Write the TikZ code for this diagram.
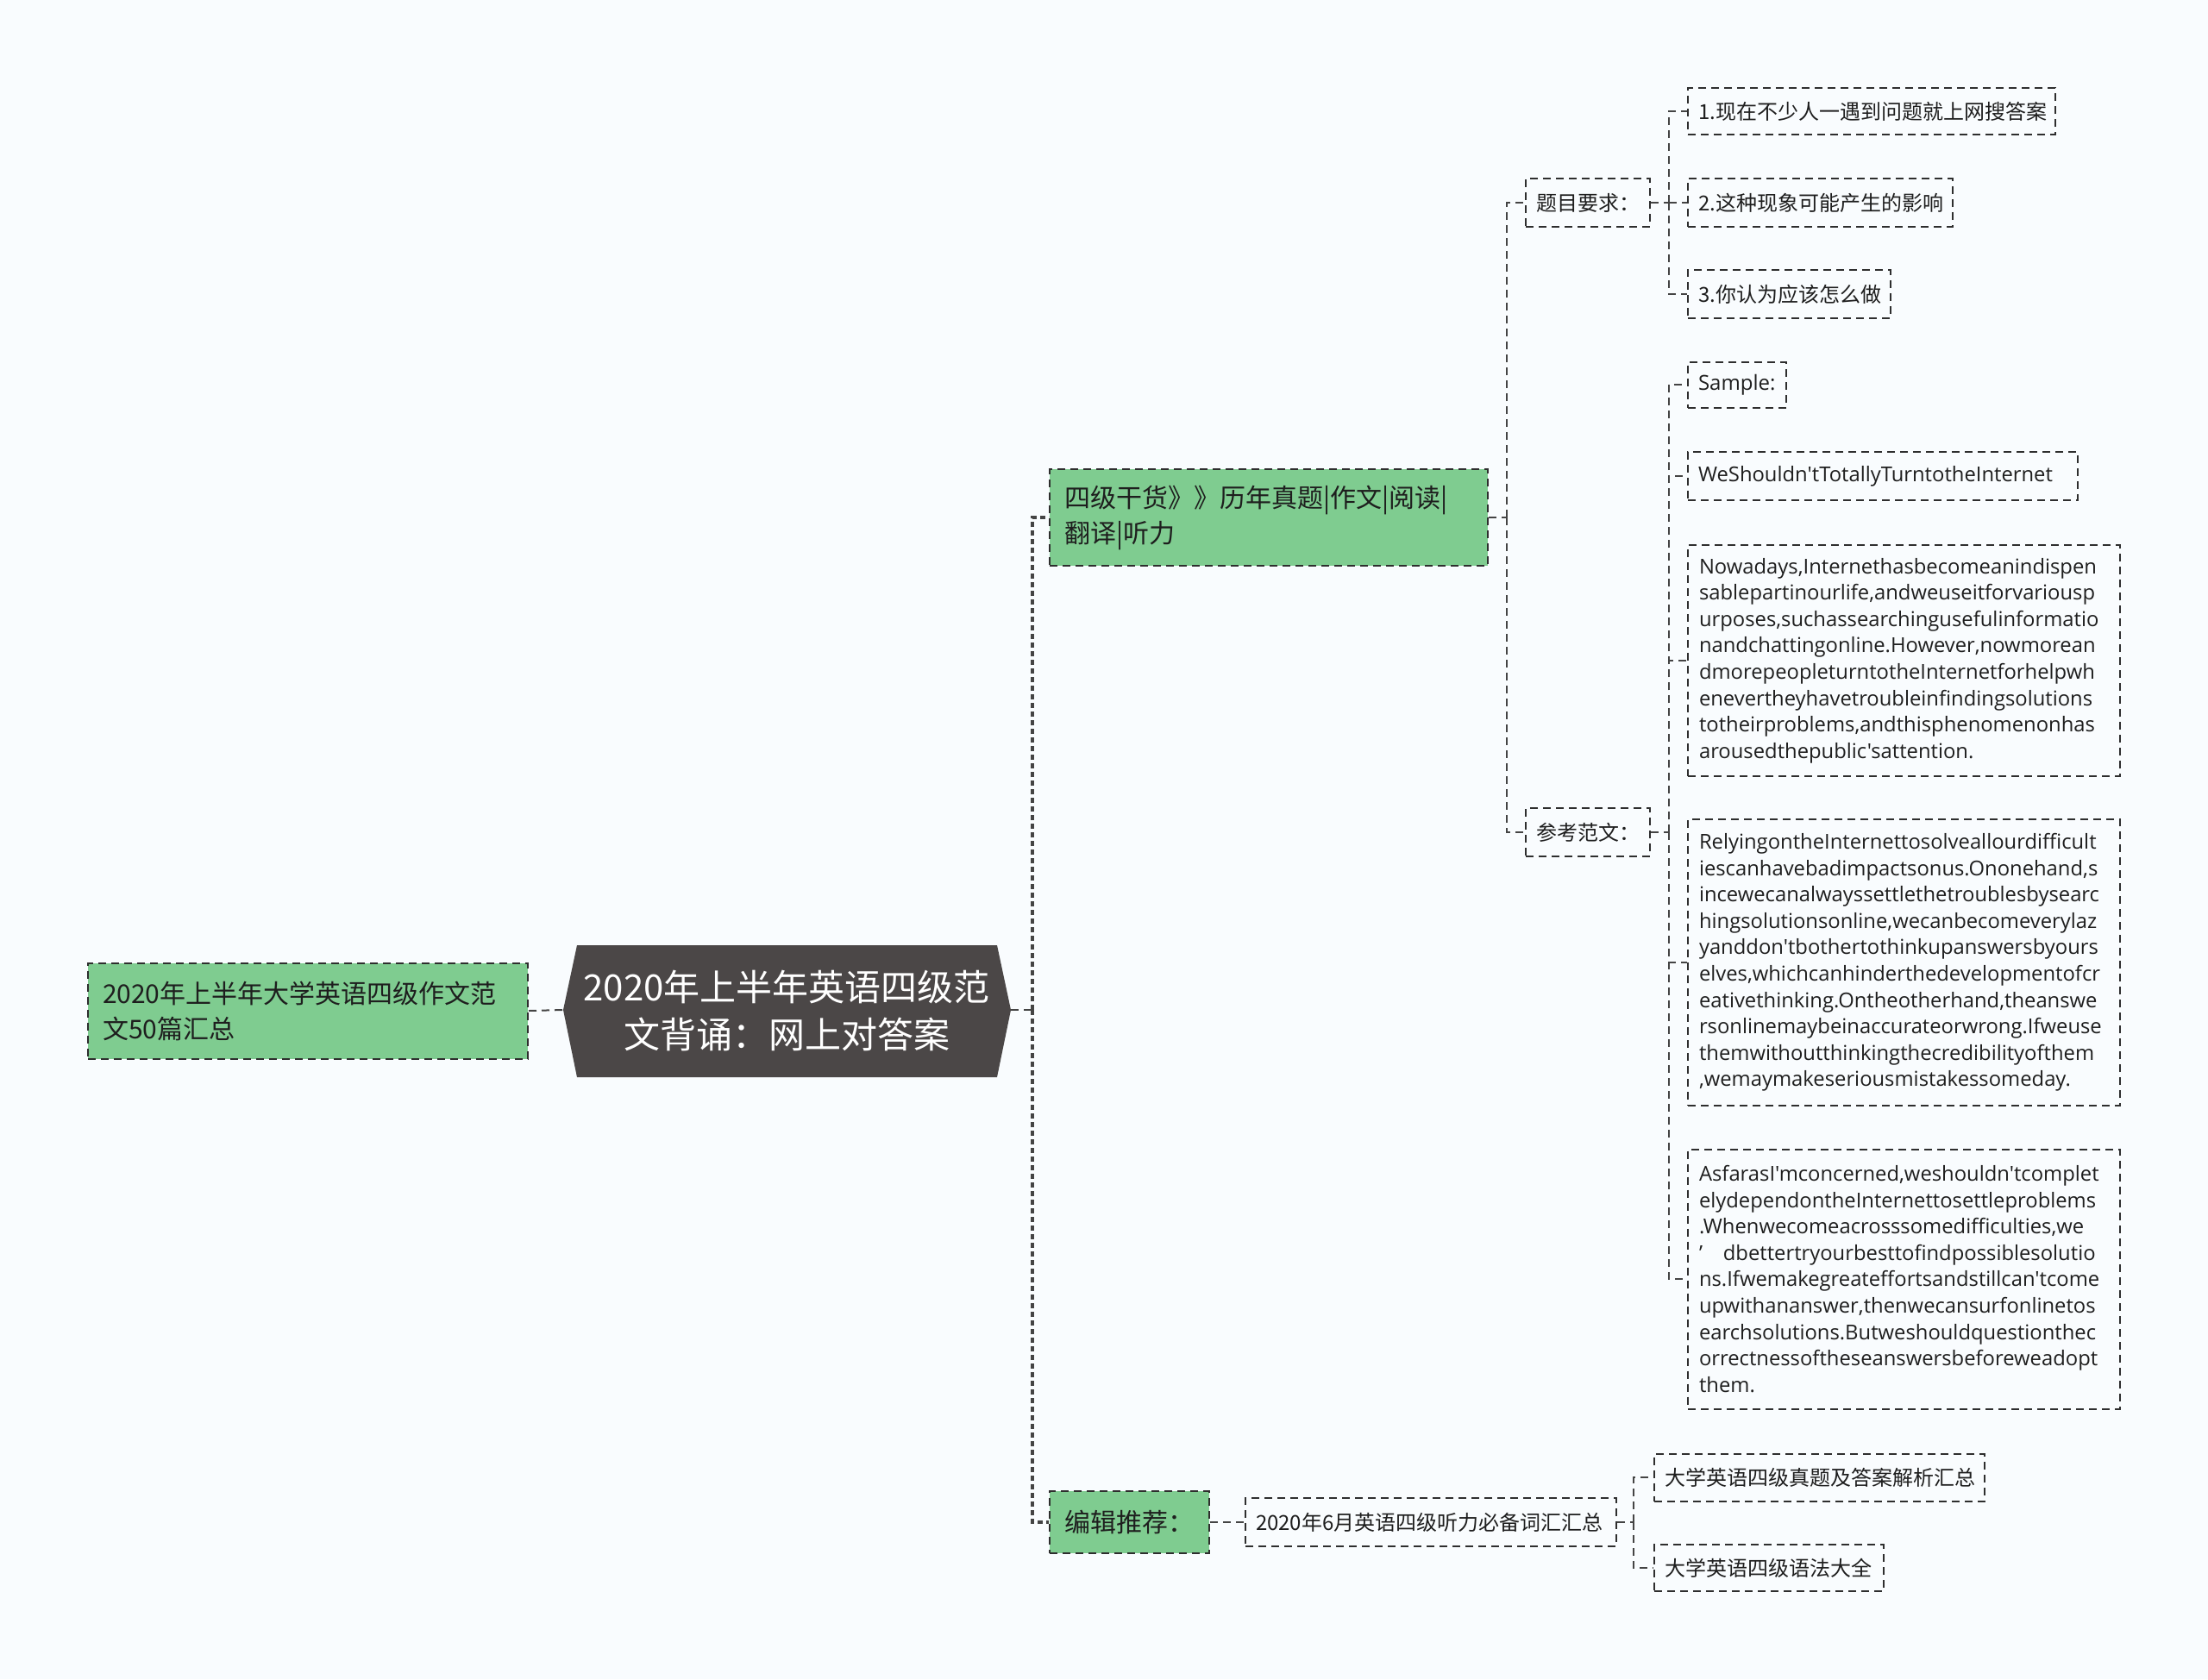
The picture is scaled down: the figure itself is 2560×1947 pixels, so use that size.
\documentclass[tikz,border=0pt]{standalone}
\usepackage{fontspec}
\setmainfont{Noto Sans CJK SC}
\newfontfamily\latinfont{Open Sans}
\hyphenpenalty=10000
\exhyphenpenalty=10000
\definecolor{bgc}{HTML}{F9FCFE}
\definecolor{greenc}{HTML}{7FCC90}
\definecolor{rootc}{HTML}{4B4747}
\definecolor{linec}{HTML}{444444}
\definecolor{borderc}{HTML}{2E2E2E}
\definecolor{txtc}{HTML}{1E1E1E}
\begin{document}
\begin{tikzpicture}[x=1pt,y=-1pt,
  boxbase/.style={draw=borderc, line width=2pt, dash pattern=on 9pt off 6pt, anchor=west, align=left, text=txtc, inner ysep=0pt},
  greenbox/.style={boxbase, fill=greenc, inner xsep=17pt, font=\fontsize{30}{41}\selectfont},
  smallbox/.style={boxbase, inner xsep=12pt, font=\fontsize{24}{30}\selectfont},
  parabox/.style={boxbase, inner xsep=13pt, font=\latinfont\fontsize{23.8}{30.6}\selectfont},
  conn/.style={draw=linec, line width=2pt, dash pattern=on 9pt off 6pt},
  trunk/.style={draw=linec, line width=3.2pt, dash pattern=on 6pt off 4pt},
]
\useasboundingbox (0,0) rectangle (2560,1947);
\fill[bgc] (0,0) rectangle (2560,1947);

% root hexagon
\fill[rootc] (653,1171) -- (669,1096) -- (1156,1096) -- (1172,1171) -- (1156,1249) -- (669,1249) -- cycle;
\node[text=white, align=center, font=\fontsize{42}{55}\selectfont] (root) at (912,1172) {2020年上半年英语四级范\\文背诵：网上对答案};
\coordinate (rootL) at (653,1171);
\coordinate (rootR) at (1172,1171);

% left node
\node[greenbox, minimum height=111pt, text width=476pt] (left) at (101,1172) {2020年上半年大学英语四级作文范\\文50篇汇总};

% green branch nodes
\node[greenbox, minimum height=112pt, text width=474pt] (g1) at (1216,600) {四级干货》》历年真题|作文|阅读|\\翻译|听力};
\node[greenbox, minimum height=72pt, text width=151pt] (g2) at (1216,1765) {编辑推荐：};

% level 2
\node[smallbox, minimum height=56pt, text width=120pt] (q) at (1768,235) {题目要求：};
\node[smallbox, minimum height=56pt, text width=120pt] (r) at (1768,965) {参考范文：};

% items of q
\node[smallbox, minimum height=54pt, text width=402pt] (i1) at (1956,129) {1.现在不少人一遇到问题就上网搜答案};
\node[smallbox, minimum height=56pt, text width=283pt] (i2) at (1956,235) {2.这种现象可能产生的影响};
\node[smallbox, minimum height=56pt, text width=211pt] (i3) at (1956,341) {3.你认为应该怎么做};

% items of r
\node[smallbox, font=\latinfont\fontsize{24}{30}\selectfont, minimum height=53pt, text width=90pt] (s1) at (1956,446) {Sample:};
\node[smallbox, font=\latinfont\fontsize{23.8}{30}\selectfont, minimum height=56pt, text width=428pt] (s2) at (1956,552) {WeShouldn't\-TotallyTurntotheInternet};
\node[parabox, minimum height=268pt, text width=475pt] (p1) at (1956,766) {Nowadays,Internethasbecomeanindispen\\sablepartinourlife,andweuseitforvariousp\\urposes,suchassearchingusefulinformatio\\nandchattingonline.However,nowmorean\\dmorepeopleturntotheInternetforhelpwh\\enevertheyhavetroubleinfindingsolutions\\totheirproblems,andthisphenomenonhas\\arousedthepublic'sattention.};
\node[parabox, minimum height=332pt, text width=475pt] (p2) at (1956,1116) {RelyingontheInternettosolveallourdifficult\\iescanhavebadimpactsonus.Ononehand,s\\incewecanalwayssettlethetroublesbysearc\\hingsolutionsonline,wecanbecomeverylaz\\yanddon'tbothertothinkupanswersbyours\\elves,whichcanhinderthedevelopmentofcr\\eativethinking.Ontheotherhand,theanswe\\rsonlinemaybeinaccurateorwrong.Ifweuse\\themwithoutthinkingthecredibilityofthem\\,wemaymakeseriousmistakessomeday.};
\node[parabox, minimum height=301pt, text width=475pt] (p3) at (1956,1483) {AsfarasI'mconcerned,weshouldn'tcomplet\\elydependontheInternettosettleproblems\\.Whenwecomeacrosssomedifficulties,we\\’\quad dbettertryourbesttofindpossiblesolutio\\ns.Ifwemakegreateffortsandstillcan'tcome\\upwithananswer,thenwecansurfonlinetos\\earchsolutions.Butweshouldquestionthec\\orrectnessoftheseanswersbeforeweadopt\\them.};

% 编辑推荐 branch
\node[smallbox, minimum height=56pt, text width=406pt] (v) at (1443,1765) {2020年6月英语四级听力必备词汇汇总};
\node[smallbox, minimum height=55pt, text width=359pt] (v1) at (1917,1713) {大学英语四级真题及答案解析汇总};
\node[smallbox, minimum height=54pt, text width=242pt] (v2) at (1917,1818) {大学英语四级语法大全};

% connectors
\coordinate (t0) at (1197,1171);
\coordinate (t1) at (1747,600);
\coordinate (t2) at (1935,235);
\coordinate (t3) at (1935,965);
\coordinate (t4) at (1894,1765);

\draw[conn] (left.east) -- (rootL);
\draw[conn] (rootR) -- (t0);
\draw[trunk] (t0) |- (g1.west);
\draw[trunk] (t0) |- (g2.west);

\draw[conn] (g1.east) -- (t1);
\draw[conn] (t1) |- (q.west);
\draw[conn] (t1) |- (r.west);

\draw[conn] (q.east) -- (t2);
\draw[conn] (t2) |- (i1.west);
\draw[conn] (t2) -- (i2.west);
\draw[conn] (t2) |- (i3.west);

\draw[conn] (r.east) -- (t3);
\draw[conn] (t3) |- (s1.west);
\draw[conn] (t3) |- (s2.west);
\draw[conn] (t3) |- (p1.west);
\draw[conn] (t3) |- (p2.west);
\draw[conn] (t3) |- (p3.west);

\draw[conn] (g2.east) -- (v.west);
\draw[conn] (v.east) -- (t4);
\draw[conn] (t4) |- (v1.west);
\draw[conn] (t4) |- (v2.west);
\end{tikzpicture}
\end{document}
